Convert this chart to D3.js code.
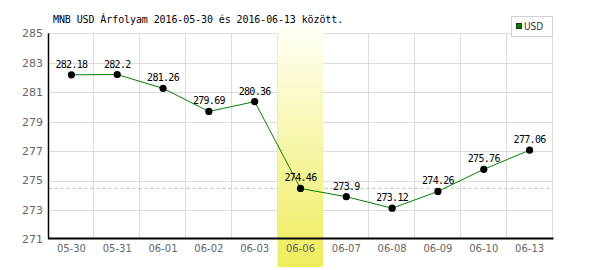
<!DOCTYPE html>
<html><head><meta charset="utf-8">
<script src="https://cdn.jsdelivr.net/npm/d3@7"></script>
<style>
html,body{margin:0;padding:0;background:#fff;}
svg{display:block;}
</style></head>
<body>
<svg id="chart" width="600" height="270"></svg>
<script>
const categories = ["05-30","05-31","06-01","06-02","06-03","06-06","06-07","06-08","06-09","06-10","06-13"];
const values = [282.18, 282.2, 281.26, 279.69, 280.36, 274.46, 273.9, 273.12, 274.26, 275.76, 277.06];
const labels = ["282.18","282.2","281.26","279.69","280.36","274.46","273.9","273.12","274.26","275.76","277.06"];
const yTicks = [271, 273, 275, 277, 279, 281, 283, 285];
const highlightCategory = "06-06";
const referenceValue = 274.46;
const seriesName = "USD";
const title = "MNB USD Árfolyam 2016-05-30 és 2016-06-13 között.";

(function () {
const svg = d3.select("#chart");
const pL = 48.5, pR = 552.5, pT = 33.3, pB = 239.4;

const x = d3.scaleBand().domain(categories).range([pL, pR]).padding(0);
const y = d3.scaleLinear().domain([271, 285]).range([pB, pT]);

const defs = svg.append("defs");
const grad = defs.append("linearGradient").attr("id","hl").attr("x1",0).attr("y1",0).attr("x2",0).attr("y2",1);
grad.append("stop").attr("offset","0%").attr("stop-color","#fffff4");
grad.append("stop").attr("offset","100%").attr("stop-color","#eeec5c");

// grid
const g = svg.append("g");
g.selectAll("line.hg").data(yTicks.filter(d => d > 271)).enter().append("line")
  .attr("x1", pL).attr("x2", pR)
  .attr("y1", d => Math.round(y(d)) + 0.5).attr("y2", d => Math.round(y(d)) + 0.5)
  .attr("stroke", "#dcdcdc").attr("stroke-width", 1);
const bounds = categories.map(c => x(c)).slice(1).concat([pR]);
g.selectAll("line.vg").data(bounds).enter().append("line")
  .attr("x1", d => Math.round(d) - 0.5).attr("x2", d => Math.round(d) - 0.5)
  .attr("y1", pT).attr("y2", pB)
  .attr("stroke", "#dcdcdc").attr("stroke-width", 1);

// reference dashed line
g.append("line")
  .attr("x1", pL).attr("x2", pR)
  .attr("y1", y(referenceValue)).attr("y2", y(referenceValue))
  .attr("stroke", "#9fcf9f").attr("stroke-width", 1).attr("stroke-dasharray", "3,3");

// highlight band
svg.append("rect")
  .attr("x", x(highlightCategory)).attr("width", x.bandwidth())
  .attr("y", 28).attr("height", 267 - 28)
  .attr("fill", "url(#hl)");

// axes
svg.append("line").attr("x1", pL).attr("x2", pL).attr("y1", pT).attr("y2", pB - 1)
  .attr("stroke", "#000").attr("stroke-width", 1.5);
svg.append("line").attr("x1", pL - 0.5).attr("x2", pR + 1).attr("y1", 238.5).attr("y2", 238.5)
  .attr("stroke", "#000").attr("stroke-width", 2);

// y labels
svg.selectAll("text.yl").data(yTicks).enter().append("text")
  .attr("x", 43).attr("y", d => y(d)).attr("dy", "0.36em")
  .attr("text-anchor", "end")
  .attr("font-family", "DejaVu Sans, sans-serif").attr("font-size", "11px")
  .attr("fill", "#666").text(d => d);

// x labels
svg.selectAll("text.xl").data(categories).enter().append("text")
  .attr("x", d => x(d) + x.bandwidth() / 2).attr("y", 252)
  .attr("text-anchor", "middle")
  .attr("font-family", "DejaVu Sans, sans-serif").attr("font-size", "10px")
  .attr("fill", "#666").text(d => d);

// line
const line = d3.line().x((d, i) => x(categories[i]) + x.bandwidth() / 2).y(d => y(d));
svg.append("path").datum(values).attr("d", line)
  .attr("fill", "none").attr("stroke", "#008000").attr("stroke-width", 1);

svg.selectAll("circle.pt").data(values).enter().append("circle")
  .attr("cx", (d, i) => x(categories[i]) + x.bandwidth() / 2)
  .attr("cy", d => y(d)).attr("r", 3.6).attr("fill", "#000");

svg.selectAll("text.vl").data(values).enter().append("text")
  .attr("x", (d, i) => x(categories[i]) + x.bandwidth() / 2)
  .attr("y", d => y(d) - 7)
  .attr("text-anchor", "middle")
  .attr("font-family", "DejaVu Sans Mono, monospace").attr("font-size", "10px")
  .attr("letter-spacing", "-0.7px")
  .attr("fill", "#000").text((d, i) => labels[i]);

// title
svg.append("text").attr("x", 53).attr("y", 22.5)
  .attr("font-family", "DejaVu Sans Mono, monospace").attr("font-size", "10px")
  .attr("letter-spacing", "-0.1px")
  .attr("fill", "#000").text(title);

// legend
svg.append("rect").attr("x", 511.5).attr("y", 16.5).attr("width", 41).attr("height", 20)
  .attr("fill", "#fff").attr("stroke", "#d0d0d0").attr("stroke-width", 1);
svg.append("rect").attr("x", 516.5).attr("y", 23.5).attr("width", 5).attr("height", 5)
  .attr("fill", "#008000").attr("stroke", "#004000").attr("stroke-width", 1);
svg.append("text").attr("x", 524).attr("y", 29.5)
  .attr("font-family", "DejaVu Sans Condensed, DejaVu Sans, sans-serif").attr("font-size", "10px")
  .attr("fill", "#333").text(seriesName);
})();
</script>
</body></html>
